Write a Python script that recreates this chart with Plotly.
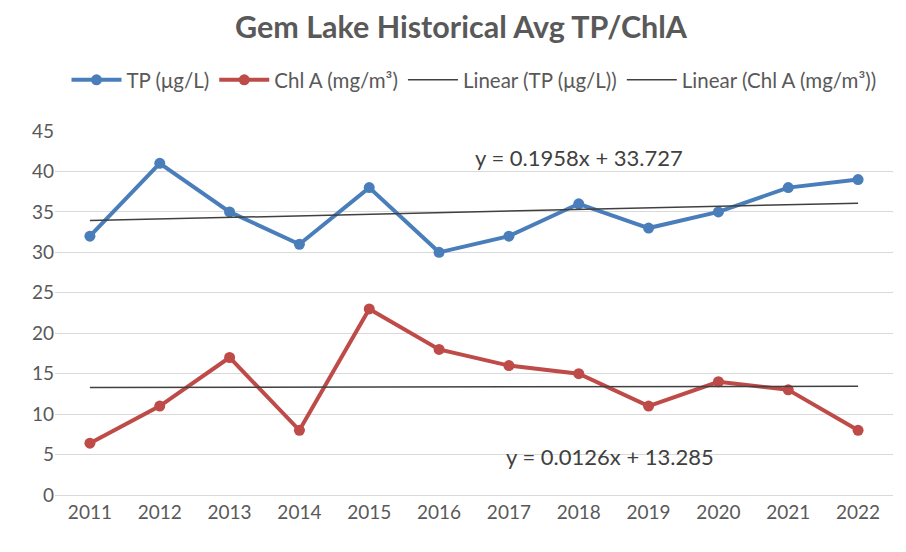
import numpy as np
import plotly.graph_objects as go

years = [2011, 2012, 2013, 2014, 2015, 2016, 2017, 2018, 2019, 2020, 2021, 2022]
tp = [32, 41, 35, 31, 38, 30, 32, 36, 33, 35, 38, 39]
chla = [6.4, 11, 17, 8, 23, 18, 16, 15, 11, 14, 13, 8]
tp_eq = "y = 0.1958x + 33.727"
chla_eq = "y = 0.0126x + 13.285"

idx = np.arange(1, len(years) + 1)
tp_fit = np.polyval(np.polyfit(idx, tp, 1), idx)
chla_fit = np.polyval(np.polyfit(idx, chla, 1), idx)

FONT = "Lato"
GRAY = "#595959"
H = 552

fig = go.Figure()
fig.add_trace(go.Scatter(x=years, y=tp, mode="lines+markers", name="TP (μg/L)",
                         line=dict(color="#4A7EBB", width=4),
                         marker=dict(size=11, color="#4A7EBB")))
fig.add_trace(go.Scatter(x=years, y=chla, mode="lines+markers", name="Chl A (mg/m³)",
                         line=dict(color="#BE4B48", width=4),
                         marker=dict(size=11, color="#BE4B48")))
fig.add_trace(go.Scatter(x=years, y=tp_fit, mode="lines", name="Linear (TP (μg/L))",
                         line=dict(color="#404040", width=1.5)))
fig.add_trace(go.Scatter(x=years, y=chla_fit, mode="lines", name="Linear (Chl A (mg/m³))",
                         line=dict(color="#404040", width=1.5)))

fig.add_annotation(x=2018, y=41.7, text=tp_eq, showarrow=False,
                   font=dict(family=FONT, size=22, color="#404040"))
fig.add_annotation(x=2018.45, y=4.7, text=chla_eq, showarrow=False,
                   font=dict(family=FONT, size=22, color="#404040"))

fig.update_layout(
    width=906, height=H,
    margin=dict(l=47, r=21, t=123, b=65, autoexpand=False),
    paper_bgcolor="white", plot_bgcolor="white",
    font=dict(family=FONT, color=GRAY, size=18),
    title=dict(text="<b>Gem Lake Historical Avg TP/ChlA</b>", x=0.5, xanchor="center",
               y=1 - 19 / H, yanchor="middle", yref="container",
               font=dict(family=FONT, size=30.5, color=GRAY)),
    legend=dict(orientation="h", x=0.5, xanchor="center", y=1 - 72 / H, yanchor="middle",
                yref="container",
                font=dict(family=FONT, size=20.5, color=GRAY), itemwidth=50,
                tracegroupgap=0),
    showlegend=True,
    xaxis=dict(range=[2010.5, 2022.5], tickmode="array", tickvals=years,
               ticktext=[str(y) for y in years], showgrid=False,
               showline=True, linecolor="#D9D9D9", linewidth=1,
               ticks="", tickfont=dict(size=19, color=GRAY), zeroline=False,
               automargin=False),
    yaxis=dict(range=[0, 45], dtick=5, showgrid=True, gridcolor="#D9D9D9",
               gridwidth=1, zeroline=False, ticks="",
               tickfont=dict(size=19, color=GRAY), automargin=False),
)

fig.write_html("out.html")
